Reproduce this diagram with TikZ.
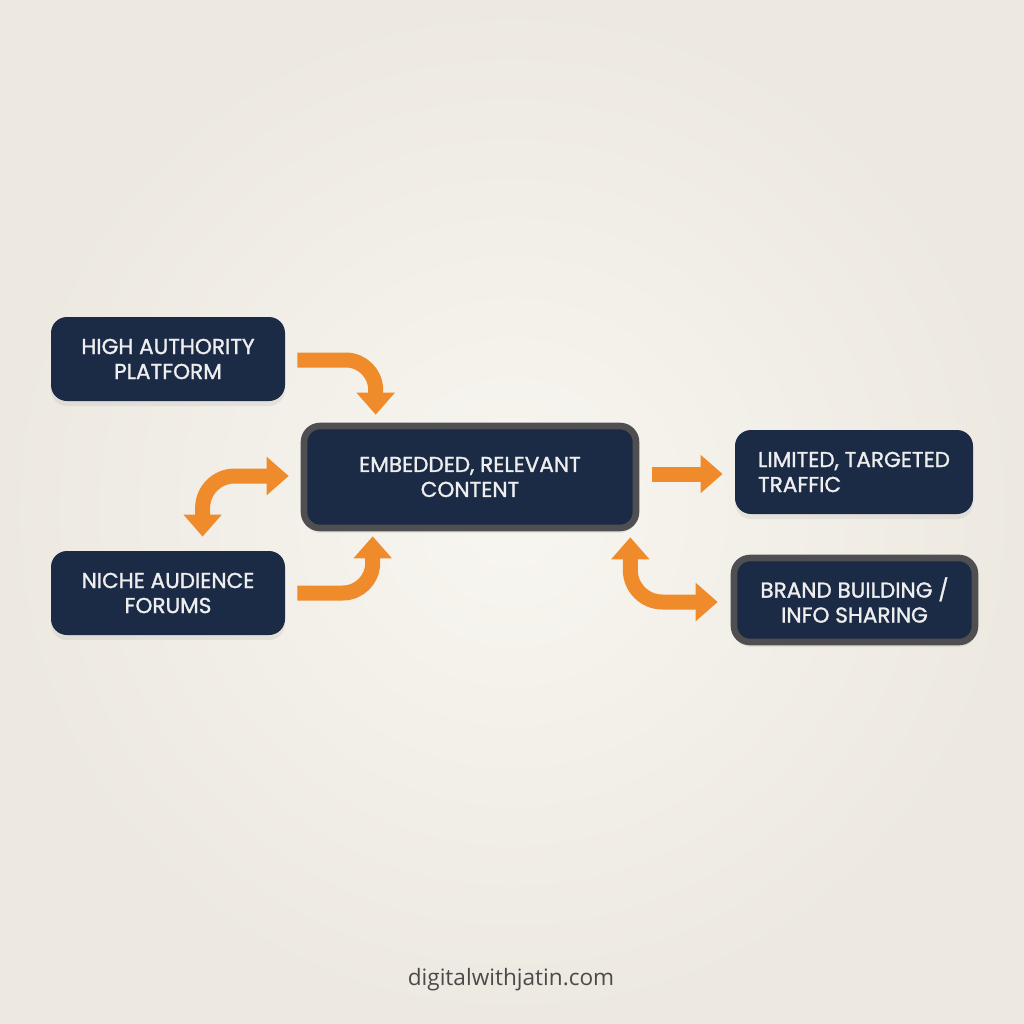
\documentclass[tikz,border=0pt]{standalone}
\usepackage{fontspec}
\setmainfont{Poppins}
\newfontfamily\boxfont{Poppins}[FakeBold=1.3]
\newfontfamily\footfont{Open Sans}
\usetikzlibrary{arrows.meta,calc,shadows}
\definecolor{bgc}{HTML}{F5F2EA}
\definecolor{bgedge}{HTML}{EDE9E1}
\definecolor{navy}{HTML}{1B2B45}
\definecolor{bordergrey}{HTML}{4F4F51}
\definecolor{orangec}{HTML}{EF8B2A}
\definecolor{txt}{HTML}{EEEEEE}
\definecolor{foot}{HTML}{4A4A4A}
\tikzset{
  box/.style={fill=navy, text=txt, rounded corners=8pt, inner sep=0pt, align=center,
    font=\boxfont\fontsize{10.8}{12.5}\selectfont,
    drop shadow={opacity=0.12, shadow xshift=0pt, shadow yshift=-2.5pt}},
  plainbox/.style={box, draw=none, minimum width=117pt, minimum height=42pt},
  framed/.style={box, draw=bordergrey, line width=3.3pt},
  flow/.style={draw=orangec, line width=7.5pt, line cap=butt},
  headtip/.style={-{Triangle[width=18.5pt,length=11pt]}},
  bothtip/.style={{Triangle[width=18.5pt,length=11pt]}-{Triangle[width=18.5pt,length=11pt]}}
}
\begin{document}
\begin{tikzpicture}[x=0.5pt,y=-0.5pt]
\shade[inner color=bgc!70!white, outer color=bgedge] (0,0) rectangle (1024,1024);
\useasboundingbox (0,0) rectangle (1024,1024);

\node[plainbox] (hap) at (168,359) {HIGH AUTHORITY\\PLATFORM};
\node[plainbox] (naf) at (168,593) {NICHE AUDIENCE\\FORUMS};
\node[framed, minimum width=166pt, minimum height=51pt] (erc) at (470,477) {EMBEDDED, RELEVANT\\CONTENT};
\node[plainbox, align=left, minimum width=119pt] (ltt) at (854,472) {LIMITED, TARGETED\\TRAFFIC};
\node[framed, minimum width=120.5pt, minimum height=42pt] (bbis) at (854.5,600) {BRAND BUILDING /\\INFO SHARING};

% connectors
\draw[flow, headtip, rounded corners=15pt]
  ($(hap.east)+(12,1)$) -| ($(erc.north west)+(75,-8)$);
\draw[flow, bothtip, rounded corners=16pt]
  ($(naf.north west)+(152,-14)$) |- ($(erc.west)+(-12,-1)$);
\draw[flow, headtip, rounded corners=15pt]
  ($(naf.east)+(12,0)$) -| ($(erc.south west)+(72,5)$);
\draw[flow, headtip]
  ($(erc.east)+(13,-3)$) -- ($(ltt.west)+(-12,2)$);
\draw[flow, bothtip, rounded corners=16pt]
  ($(erc.south east)+(-9,6)$) |- ($(bbis.west)+(-13,2)$);

\node[font=\footfont\fontsize{11.3}{13}\selectfont, text=foot] (site) at (511,980) {digitalwithjatin.com};
\end{tikzpicture}
\end{document}
